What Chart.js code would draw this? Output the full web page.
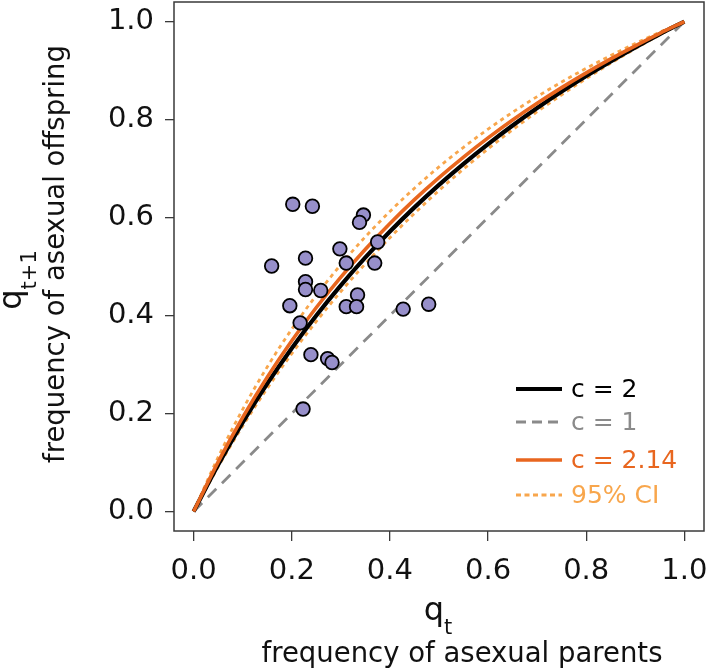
<!DOCTYPE html>
<html>
<head>
<meta charset="utf-8">
<style>
  html, body { margin: 0; padding: 0; background: #ffffff; }
  #wrap { width: 708px; height: 671px; position: relative; }
</style>
<script src="https://cdn.jsdelivr.net/npm/chart.js@4"></script>
</head>
<body>
<div id="wrap"><canvas id="c" width="708" height="671"></canvas></div>
<script>
// ---- data ----
const qGrid     = [0, 0.05, 0.1, 0.15, 0.2, 0.25, 0.3, 0.35, 0.4, 0.45, 0.5, 0.55, 0.6, 0.65, 0.7, 0.75, 0.8, 0.85, 0.9, 0.95, 1];
const c2Vals    = [0, 0.0952, 0.1818, 0.2609, 0.3333, 0.4000, 0.4615, 0.5185, 0.5714, 0.6207, 0.6667, 0.7097, 0.7500, 0.7879, 0.8235, 0.8571, 0.8889, 0.9189, 0.9474, 0.9744, 1];
const c214Vals  = [0, 0.1012, 0.1921, 0.2741, 0.3485, 0.4163, 0.4784, 0.5354, 0.5879, 0.6365, 0.6815, 0.7234, 0.7625, 0.7990, 0.8331, 0.8652, 0.8954, 0.9238, 0.9506, 0.9760, 1];
const ciUpper   = [0, 0.1109, 0.2084, 0.2949, 0.3721, 0.4413, 0.5039, 0.5607, 0.6124, 0.6598, 0.7033, 0.7434, 0.7805, 0.8149, 0.8469, 0.8767, 0.9046, 0.9307, 0.9552, 0.9783, 1];
const ciLower   = [0, 0.0909, 0.1743, 0.2511, 0.3220, 0.3878, 0.4488, 0.5057, 0.5588, 0.6085, 0.6552, 0.6990, 0.7403, 0.7792, 0.8160, 0.8507, 0.8837, 0.9150, 0.9448, 0.9730, 1];
const neutralQ    = [0, 1];
const neutralVals = [0, 1];
const obsQt  = [0.202, 0.242, 0.346, 0.338, 0.375, 0.298, 0.228, 0.159, 0.311, 0.369, 0.228, 0.228, 0.259, 0.334, 0.196, 0.311, 0.332, 0.427, 0.479, 0.217, 0.239, 0.273, 0.282, 0.223];
const obsQt1 = [0.627, 0.623, 0.605, 0.590, 0.550, 0.536, 0.517, 0.501, 0.507, 0.507, 0.469, 0.453, 0.451, 0.442, 0.420, 0.418, 0.418, 0.413, 0.423, 0.385, 0.320, 0.312, 0.304, 0.209];
const tickVals = [0, 0.2, 0.4, 0.6, 0.8, 1.0];
const legendLabels = ["c = 2", "c = 1", "c = 2.14", "95% CI"];
const xTitleMain = "q", xTitleSub = "t", xTitleLine2 = "frequency of asexual parents";
const yTitleMain = "q", yTitleSub = "t+1", yTitleLine2 = "frequency of asexual offspring";

const FONT = "'DejaVu Sans', Verdana, sans-serif";
const C_BLACK = "#000000", C_GRAY = "#8a8a8a", C_ORANGE = "#e8661f", C_LIGHT = "#f8a64c";

const toXY = (xs, ys) => xs.map((x, i) => ({ x: x, y: ys[i] }));

const frameAndTitles = {
  id: 'frameAndTitles',
  afterDatasetsDraw(chart) {
    const ctx = chart.ctx, a = chart.chartArea;
    ctx.save();
    ctx.strokeStyle = "#3a3a3a";
    ctx.lineWidth = 1.5;
    ctx.strokeRect(a.left, a.top, a.right - a.left, a.bottom - a.top);

    // legend
    const rows = [389, 422, 460, 495];
    const ds = chart.data.datasets;
    legendLabels.forEach((lab, i) => {
      const d = ds.find(s => s.label === lab);
      ctx.beginPath();
      ctx.setLineDash(d.legendDash || []);
      ctx.strokeStyle = d.borderColor;
      ctx.lineWidth = d.borderWidth;
      ctx.moveTo(516, rows[i]);
      ctx.lineTo(562, rows[i]);
      ctx.stroke();
      ctx.setLineDash([]);
      ctx.fillStyle = d.textColor;
      ctx.font = "25px " + FONT;
      ctx.textAlign = "left";
      ctx.textBaseline = "middle";
      ctx.fillText(lab, 571, rows[i] + 1);
    });
    ctx.restore();
  },
  afterDraw(chart) {
    const ctx = chart.ctx;
    ctx.save();
    ctx.fillStyle = "#111111";
    ctx.textBaseline = "alphabetic";
    // x title
    ctx.font = "32px " + FONT;
    const wq = ctx.measureText(xTitleMain).width;
    ctx.font = "21px " + FONT;
    const wt = ctx.measureText(xTitleSub).width;
    let x0 = 438 - (wq + wt) / 2;
    ctx.font = "32px " + FONT;
    ctx.textAlign = "left";
    ctx.fillText(xTitleMain, x0, 620);
    ctx.font = "21px " + FONT;
    ctx.fillText(xTitleSub, x0 + wq, 634);
    ctx.font = "27.5px " + FONT;
    ctx.textAlign = "center";
    ctx.fillText(xTitleLine2, 462, 662);

    // y title (rotated)
    ctx.save();
    ctx.rotate(-Math.PI / 2);
    ctx.font = "32px " + FONT;
    const wq2 = ctx.measureText(yTitleMain).width;
    ctx.font = "21px " + FONT;
    const wt2 = ctx.measureText(yTitleSub).width;
    const cy = 280;
    let s = -(cy + (wq2 + wt2) / 2); // rotated x coordinate = -y
    ctx.textAlign = "left";
    ctx.font = "32px " + FONT;
    ctx.fillText(yTitleMain, s, 21);
    ctx.font = "21px " + FONT;
    ctx.fillText(yTitleSub, s + wq2, 36);
    ctx.font = "27.5px " + FONT;
    ctx.textAlign = "center";
    ctx.fillText(yTitleLine2, -254, 64);
    ctx.restore();
    ctx.restore();
  }
};

const setTicks = (scale) => { scale.ticks = tickVals.map(v => ({ value: v })); };

new Chart(document.getElementById('c'), {
  type: 'scatter',
  data: {
    datasets: [
      { label: 'observed', data: toXY(obsQt, obsQt1), pointRadius: 6.8, pointHoverRadius: 6.8,
        backgroundColor: '#978fca', borderColor: '#000000', borderWidth: 1.8, showLine: false },
      { label: legendLabels[2], data: toXY(qGrid, c214Vals), showLine: true, pointRadius: 0,
        borderColor: C_ORANGE, textColor: C_ORANGE, borderWidth: 3.6, cubicInterpolationMode: 'monotone' },
      { label: legendLabels[0], data: toXY(qGrid, c2Vals), showLine: true, pointRadius: 0,
        borderColor: C_BLACK, textColor: C_BLACK, borderWidth: 4.2, cubicInterpolationMode: 'monotone' },
      { label: legendLabels[3], data: toXY(qGrid, ciUpper), showLine: true, pointRadius: 0,
        borderColor: C_LIGHT, textColor: C_LIGHT, borderWidth: 2.8, borderDash: [4, 4], legendDash: [5, 3.5],
        cubicInterpolationMode: 'monotone' },
      { label: '95% CI lower', data: toXY(qGrid, ciLower), showLine: true, pointRadius: 0,
        borderColor: C_LIGHT, borderWidth: 2.8, borderDash: [4, 4], cubicInterpolationMode: 'monotone' },
      { label: legendLabels[1], data: toXY(neutralQ, neutralVals), showLine: true, pointRadius: 0,
        borderColor: C_GRAY, textColor: C_GRAY, borderWidth: 2.8, borderDash: [12, 8], legendDash: [10, 6] }
    ]
  },
  options: {
    responsive: false,
    animation: false,
    devicePixelRatio: 1,
    layout: { autoPadding: false, padding: { top: 2, right: 4, left: 0, bottom: 0 } },
    plugins: { legend: { display: false }, tooltip: { enabled: false } },
    scales: {
      x: {
        type: 'linear', min: -0.04, max: 1.04,
        afterBuildTicks: setTicks,
        afterFit: (s) => { s.height = 140; s.paddingLeft = 0; s.paddingRight = 0; },
        grid: { drawOnChartArea: false, drawTicks: true, tickLength: 10, color: '#3a3a3a', lineWidth: 1.3 },
        border: { display: false },
        ticks: { font: { family: FONT, size: 29 }, color: '#111111', padding: 13, maxRotation: 0,
                 callback: (v) => Number(v).toFixed(1) }
      },
      y: {
        type: 'linear', min: -0.04, max: 1.04,
        afterBuildTicks: setTicks,
        afterFit: (s) => { s.width = 174; s.paddingTop = 0; s.paddingBottom = 0; },
        grid: { drawOnChartArea: false, drawTicks: true, tickLength: 9, color: '#3a3a3a', lineWidth: 1.3 },
        border: { display: false },
        ticks: { font: { family: FONT, size: 29 }, color: '#111111', padding: 11,
                 callback: (v) => Number(v).toFixed(1) }
      }
    }
  },
  plugins: [frameAndTitles]
});
</script>
</body>
</html>
